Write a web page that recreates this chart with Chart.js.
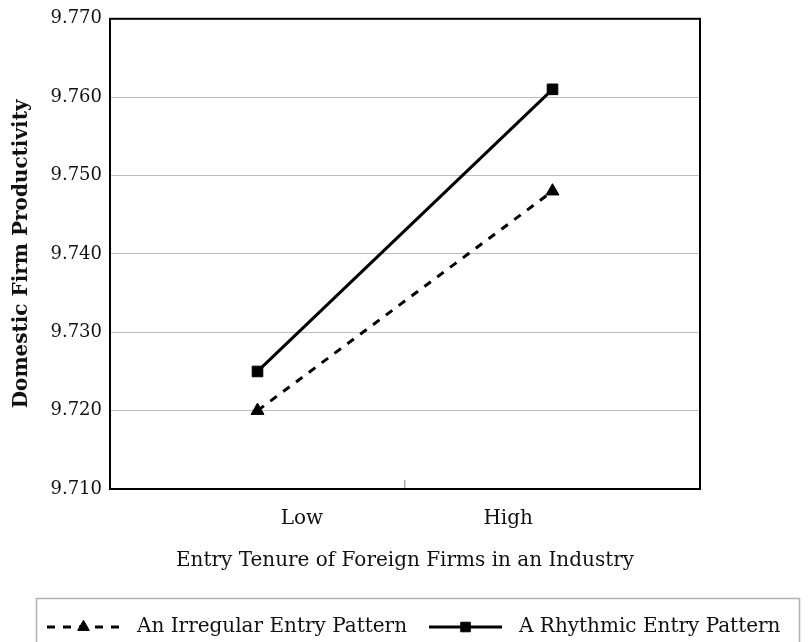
<!DOCTYPE html>
<html><head><meta charset="utf-8">
<script src="https://cdn.jsdelivr.net/npm/chart.js@4/dist/chart.umd.min.js"></script>
<style>html,body{margin:0;padding:0;background:#fff;overflow:hidden}#wrap{width:808px;height:642px;}</style>
</head><body><div id="wrap"><canvas id="c" width="808" height="642"></canvas></div>
<script>
const categories = ['Low', 'High'];
const irregularValues = [9.720, 9.748];
const rhythmicValues = [9.725, 9.761];
const yTicks = [9.710, 9.720, 9.730, 9.740, 9.750, 9.760, 9.770];
const seriesNames = ['An Irregular Entry Pattern', 'A Rhythmic Entry Pattern'];
const xTitle = 'Entry Tenure of Foreign Firms in an Industry';
const yTitle = 'Domestic Firm Productivity';

const FONT = "'DejaVu Serif', 'Liberation Serif', serif";
const LEGEND_LINE = 73;

const framePlugin = {
  id: 'frame',
  beforeDatasetsDraw(chart) {
    const {ctx, chartArea: a} = chart;
    ctx.save();
    ctx.strokeStyle = '#000';
    ctx.lineWidth = 2;
    ctx.strokeRect(a.left, a.top, a.right - a.left, a.bottom - a.top);
    ctx.restore();
  }
};

const legendMarkerPlugin = {
  id: 'legendMarkers',
  afterDraw(chart) {
    const {ctx} = chart;
    const lg = chart.legend;
    ctx.save();
    ctx.strokeStyle = '#b3b3b3';
    ctx.lineWidth = 1.5;
    ctx.strokeRect(36.5, 598.5, 763, 70);
    (lg.legendHitBoxes || []).forEach((hb, i) => {
      const ds = chart.data.datasets[i];
      const y = hb.top + hb.height / 2;
      const x0 = hb.left, x1 = hb.left + LEGEND_LINE;
      ctx.strokeStyle = '#000';
      ctx.fillStyle = '#000';
      ctx.lineWidth = 3;
      ctx.setLineDash(ds.borderDash || []);
      ctx.beginPath();
      ctx.moveTo(x0, y);
      ctx.lineTo(x1, y);
      ctx.stroke();
      ctx.setLineDash([]);
      ctx.lineWidth = 1;
      Chart.helpers.drawPoint(ctx, {pointStyle: ds.pointStyle, radius: ds.pointRadius * 0.9, borderWidth: 1, rotation: 0}, (x0 + x1) / 2, y);
    });
    ctx.restore();
  }
};

new Chart(document.getElementById('c'), {
  type: 'line',
  data: {
    labels: categories,
    datasets: [
      {
        label: seriesNames[0],
        data: irregularValues,
        borderColor: '#000',
        backgroundColor: '#000',
        borderWidth: 3,
        borderDash: [8, 8],
        pointStyle: 'triangle',
        pointRadius: 7.5,
        pointHoverRadius: 7.5,
        pointBackgroundColor: '#000',
        pointBorderColor: '#000',
        pointBorderWidth: 1,
        tension: 0
      },
      {
        label: seriesNames[1],
        data: rhythmicValues,
        borderColor: '#000',
        backgroundColor: '#000',
        borderWidth: 3,
        pointStyle: 'rect',
        pointRadius: 7.5,
        pointHoverRadius: 7.5,
        pointBackgroundColor: '#000',
        pointBorderColor: '#000',
        pointBorderWidth: 1,
        tension: 0
      }
    ]
  },
  options: {
    responsive: false,
    animation: false,
    events: [],
    layout: {padding: {left: 25, right: -10, top: 17, bottom: -5}},
    plugins: {
      tooltip: {enabled: false},
      legend: {
        position: 'bottom',
        align: 'start',
        labels: {
          font: {family: FONT, size: 20},
          color: '#111',
          boxWidth: 80,
          boxHeight: 20,
          padding: 22,
          generateLabels: (chart) => chart.data.datasets.map((ds, i) => ({
            text: ds.label,
            fillStyle: 'rgba(0,0,0,0)',
            strokeStyle: 'rgba(0,0,0,0)',
            lineWidth: 0,
            hidden: false,
            datasetIndex: i,
            fontColor: '#111'
          }))
        }
      }
    },
    scales: {
      x: {
        type: 'category',
        position: 'bottom',
        weight: 0,
        offset: true,
        grid: {display: true, drawOnChartArea: false, drawTicks: true, tickLength: -9, color: '#aaaaaa', lineWidth: 1.5, offset: true},
        border: {display: false},
        ticks: {display: false},
        afterFit(scale) { scale.height = 0; }
      },
      xLabels: {
        type: 'linear',
        position: 'bottom',
        weight: 1,
        min: 0.07,
        max: categories.length + 0.93,
        afterBuildTicks(scale) { scale.ticks = categories.map((c, i) => ({value: i + 1})); },
        grid: {display: false, drawTicks: false},
        border: {display: false},
        ticks: {font: {family: FONT, size: 20}, color: '#111', padding: 18, maxRotation: 0, autoSkip: false, callback: (v) => categories[Math.round(v) - 1]},
        title: {display: true, text: xTitle, font: {family: FONT, size: 20}, color: '#111', padding: {top: 22, bottom: 22}},
        afterFit(scale) { scale.height = 106; }
      },
      y: {
        type: 'linear',
        position: 'left',
        min: yTicks[0],
        max: yTicks[yTicks.length - 1],
        afterBuildTicks(scale) { scale.ticks = yTicks.map(v => ({value: v})); },
        grid: {color: '#bdbdbd', lineWidth: 1, drawTicks: false},
        border: {display: false},
        ticks: {font: {family: FONT, size: 18}, color: '#111', padding: 8, callback: (v) => Number(v).toFixed(3)},
        title: {display: true, text: yTitle, font: {family: FONT, size: 20, weight: 'bold'}, color: '#111', padding: {top: -15, bottom: 0}},
        afterFit(scale) { scale.width = 85; }
      },
      y2: {
        position: 'right',
        display: true,
        grid: {display: false},
        border: {display: false},
        ticks: {display: false},
        afterFit(scale) { scale.width = 118; }
      }
    }
  },
  plugins: [framePlugin, legendMarkerPlugin]
});
</script></body></html>
